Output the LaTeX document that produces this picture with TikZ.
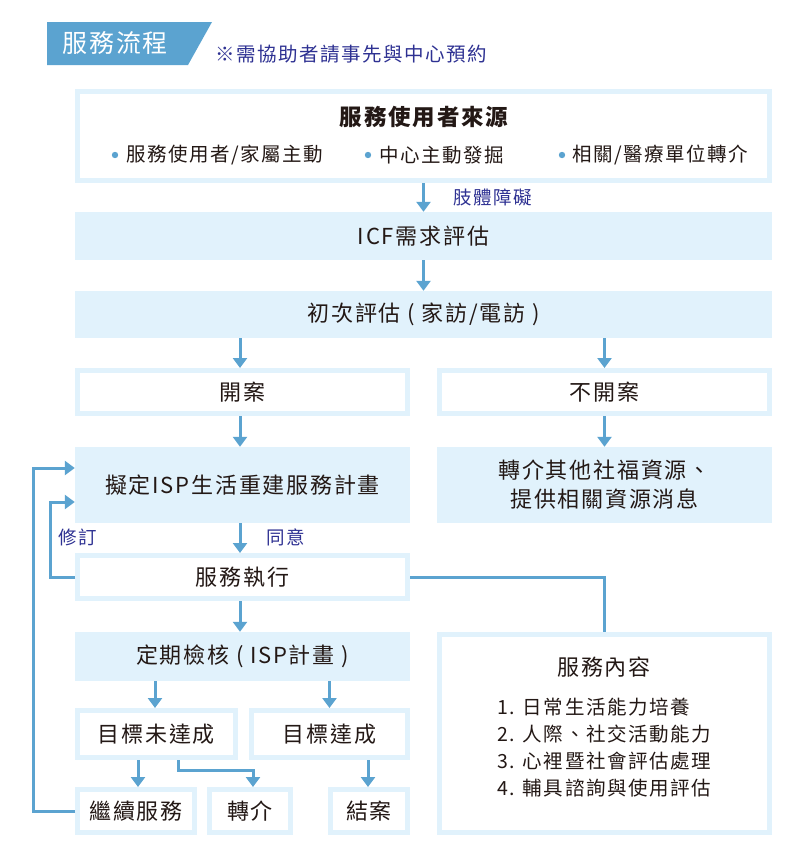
\documentclass[tikz,border=0pt]{standalone}
\usepackage{fontspec}
\setmainfont{Noto Sans CJK TC}[LetterSpace=8]
\usetikzlibrary{arrows.meta,calc}
\definecolor{tabblue}{HTML}{5BA3D0}
\definecolor{lightbox}{HTML}{E1F2FC}
\definecolor{noteblue}{HTML}{2E3192}
\definecolor{txt}{HTML}{231815}
\tikzset{
  obox/.style={draw=lightbox,line width=5pt,fill=white,inner sep=0pt,text=txt,font=\fontsize{22}{26}\selectfont},
  fbox/.style={fill=lightbox,inner sep=0pt,text=txt,font=\fontsize{22}{29}\selectfont},
  arr/.style={draw=tabblue,line width=3pt,-{Triangle[width=14pt,length=10pt]}},
  conn/.style={draw=tabblue,line width=3pt},
  lab/.style={text=noteblue,font=\fontsize{18.5}{22}\selectfont,inner sep=0pt},
  item/.style={text=txt,font=\fontsize{19.5}{23}\selectfont,inner sep=0pt,anchor=west},
}
\begin{document}
\begin{tikzpicture}[x=1pt,y=-1pt]
\useasboundingbox (0,0) rectangle (810,863);
% title tab
\fill[tabblue] (47,22) -- (212,22) -- (188,65) -- (47,65) -- cycle;
\node[text=white,font=\fontsize{25}{29}\selectfont,inner sep=0pt] (title) at (115,43) {服務流程};
\node[lab,anchor=west,font=\fontsize{19.5}{23}\selectfont] (note) at (215,54) {※需協助者請事先與中心預約};
% boxes
\node[obox,minimum width=692pt,minimum height=89pt] (src) at (423.5,136) {};
\node[text=txt,font=\fontsize{22.5}{26}\selectfont\bfseries,inner sep=0pt] (srct) at (424,117) {服務使用者來源};
\fill[tabblue] (115,155) circle (3.2);
\fill[tabblue] (368,155) circle (3.2);
\fill[tabblue] (562,155) circle (3.2);
\node[item] (b1) at (126,155) {服務使用者/家屬主動};
\node[item] (b2) at (379,155) {中心主動發掘};
\node[item] (b3) at (572,155) {相關/醫療單位轉介};
\node[fbox,minimum width=697pt,minimum height=48pt] (icf) at (423.5,236) {ICF需求評估};
\node[fbox,minimum width=697pt,minimum height=47pt] (first) at (423.5,314.5) {初次評估 ( 家訪/電訪 )};
\node[obox,minimum width=330pt,minimum height=43pt] (kai) at (242.5,392) {開案};
\node[obox,minimum width=330pt,minimum height=43pt] (bukai) at (604.5,392) {不開案};
\node[fbox,minimum width=335pt,minimum height=76pt] (isp) at (242.5,485) {擬定ISP生活重建服務計畫};
\node[fbox,minimum width=335pt,minimum height=76pt,align=center] (ref) at (604.5,485) {轉介其他社福資源、\\提供相關資源消息};
\node[obox,minimum width=330pt,minimum height=43pt] (exec) at (242.5,577) {服務執行};
\node[fbox,minimum width=335pt,minimum height=49pt] (check) at (242.5,656.5) {定期檢核 ( ISP計畫 )};
\node[obox,minimum width=158pt,minimum height=47pt] (notmet) at (156.5,734) {目標未達成};
\node[obox,minimum width=156pt,minimum height=47pt] (met) at (329.5,734) {目標達成};
\node[obox,minimum width=117pt,minimum height=43pt] (cont) at (136,811) {繼續服務};
\node[obox,minimum width=81pt,minimum height=43pt] (tr) at (250,811) {轉介};
\node[obox,minimum width=77pt,minimum height=43pt] (close) at (369,811) {結案};
\node[obox,minimum width=330pt,minimum height=198pt] (content) at (604.5,733.5) {};
\node[text=txt,font=\fontsize{22}{26}\selectfont,inner sep=0pt] (ct) at (604,667) {服務內容};
\node[item] (c1) at (497,707) {1. 日常生活能力培養};
\node[item] (c2) at (497,734) {2. 人際、社交活動能力};
\node[item] (c3) at (497,761) {3. 心裡暨社會評估處理};
\node[item] (c4) at (497,788) {4. 輔具諮詢與使用評估};
% labels
\node[lab] (l1) at (493,197) {肢體障礙};
\node[lab] (l2) at (78,537) {修訂};
\node[lab] (l3) at (286,537) {同意};
% arrows
\draw[arr] (src.south) -- (icf.north);
\draw[arr] (icf.south) -- (first.north);
\draw[arr] ([xshift=-2.5pt]kai.north |- first.south) -- ([xshift=-2.5pt]kai.north);
\draw[arr] (bukai.north |- first.south) -- (bukai.north);
\draw[arr] ([xshift=-2.5pt]isp.north |- kai.south) -- ([xshift=-2.5pt]isp.north);
\draw[arr] (ref.north |- bukai.south) -- (ref.north);
\draw[arr] ([xshift=-2.5pt]exec.north |- isp.south) -- ([xshift=-2.5pt]exec.north);
\draw[arr] ([xshift=-2.5pt]check.north |- exec.south) -- ([xshift=-2.5pt]check.north);
\draw[arr] ([xshift=-1.5pt]notmet.north |- check.south) -- ([xshift=-1.5pt]notmet.north);
\draw[arr] (met.north |- check.south) -- (met.north);
\draw[arr] ([xshift=2pt]cont.north |- notmet.south) -- ([xshift=2pt]cont.north);
\draw[arr] ([xshift=21.5pt]notmet.south) -- ++(0,10) -| ([xshift=3pt]tr.north);
\draw[arr] ([xshift=-1pt]close.north |- met.south) -- ([xshift=-1pt]close.north);
\draw[conn] (exec.east) -| (content.north);
\draw[arr] (exec.west) -- ++(-25,0) |- ([yshift=-17pt]isp.west);
\draw[arr] (cont.west) -- ++(-42,0) |- ([yshift=17pt]isp.west);
\end{tikzpicture}
\end{document}
